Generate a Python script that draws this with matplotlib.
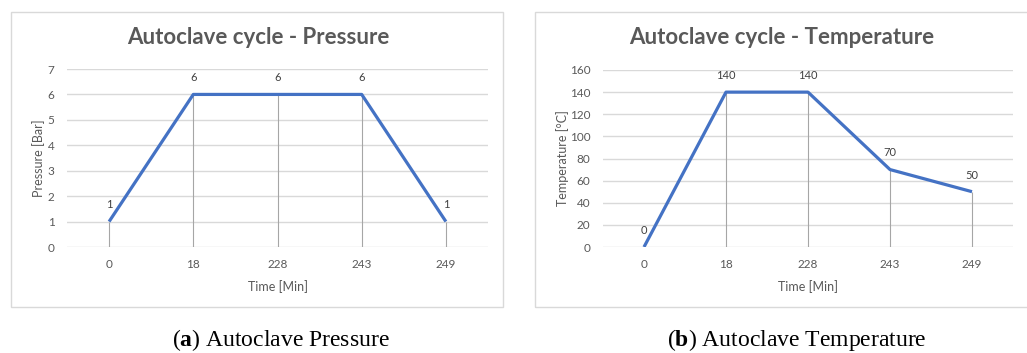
import matplotlib.pyplot as plt
from matplotlib.patches import Rectangle

# cycle data (time steps are drawn as categories)
times = ["0", "18", "228", "243", "249"]
pressure = [1, 6, 6, 6, 1]
temperature = [0, 140, 140, 70, 50]

plt.rcParams["mathtext.fontset"] = "custom"
plt.rcParams["mathtext.bf"] = "Liberation Serif:bold"
plt.rcParams["mathtext.rm"] = "Liberation Serif"

W, H = 1027, 353
fig = plt.figure(figsize=(W / 100, H / 100), dpi=100)
fig.patch.set_facecolor("white")

LINE = "#4472C4"
TXT = "#595959"
GRID = "#D9D9D9"
DROP = "#A6A6A6"
FONT = "Lato"


def px_axes(x0, x1, ytop, ybot):
    return fig.add_axes([x0 / W, (H - ybot) / H, (x1 - x0) / W, (ybot - ytop) / H])


def panel(box, ax_box, vals, ymax, ystep, title, ylabel, ylab_x, title_x):
    bx0, by0, bx1, by1 = box
    fig.patches.append(Rectangle((bx0 / W, (H - by1) / H), (bx1 - bx0) / W, (by1 - by0) / H,
                                 transform=fig.transFigure, fill=False,
                                 edgecolor=GRID, lw=1.0))
    ax = px_axes(*ax_box)
    xs = list(range(len(times)))
    ax.vlines(xs, 0, vals, color=DROP, lw=0.8, zorder=2)
    ax.plot(xs, vals, color=LINE, lw=2.3, zorder=3, solid_capstyle="butt")
    for x, v in zip(xs, vals):
        ax.annotate(str(v), (x, v), xytext=(0, 12), textcoords="offset points",
                    ha="center", va="center", fontsize=8, color="#404040", family=FONT)
    ax.set_xlim(-0.5, len(times) - 0.5)
    ax.set_ylim(0, ymax)
    ax.set_yticks(range(0, ymax + 1, ystep))
    ax.set_xticks(xs)
    ax.set_xticklabels(times)
    ax.grid(axis="y", color=GRID, lw=1.0, zorder=0)
    ax.set_axisbelow(True)
    for s in ax.spines.values():
        s.set_visible(False)
    ax.tick_params(length=0, labelsize=8.5, labelcolor=TXT, pad=9)
    ax.tick_params(axis="y", pad=9)
    for lab in ax.get_xticklabels() + ax.get_yticklabels():
        lab.set_family(FONT)
    ax.set_xlabel("Time [Min]", fontsize=9, color=TXT, family=FONT, labelpad=7)
    ax.set_ylabel(ylabel, fontsize=9, color=TXT, family=FONT)
    ax.yaxis.set_label_coords((ylab_x - ax_box[0]) / (ax_box[1] - ax_box[0]), 0.5)
    fig.text(title_x / W, (H - 38) / H, title, ha="center", va="center", fontsize=16,
             fontweight="bold", color=TXT, family=FONT)
    return ax


panel((11, 12, 503, 307), (67, 488, 69, 247), pressure, 7, 1,
      "Autoclave cycle - Pressure", "Pressure [Bar]", 45, 258)
panel((535, 12, 1040, 307), (603, 1013, 70, 247), temperature, 160, 20,
      "Autoclave cycle - Temperature", "Temperature [°C]", 569, 782)

# sub-figure captions
for cx, tag, text in [(281, "a", "Autoclave Pressure"), (797, "b", "Autoclave Temperature")]:
    fig.text(cx / W, (H - 340) / H, r"($\mathbf{" + tag + r"}$) " + text, ha="center",
             va="center", fontsize=17, family="Liberation Serif", color="black")

fig.savefig("out.png", dpi=100, facecolor="white")
